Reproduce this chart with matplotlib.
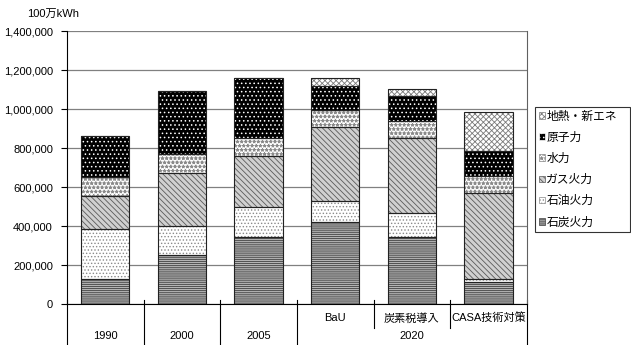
import numpy as np
import matplotlib.pyplot as plt
from matplotlib.patches import Patch

plt.rcParams['font.family'] = ['Liberation Sans', 'Noto Sans CJK JP', 'DejaVu Sans']
plt.rcParams['hatch.linewidth'] = 0.6

# 発電電力量 (100万kWh)
cases = ['1990', '2000', '2005', 'BaU', '炭素税導入', 'CASA技術対策']
groups = ['1990', '2000', '2005', '2020']
sources = ['石炭火力', '石油火力', 'ガス火力', '水力', '原子力', '地熱・新エネ']
coal = [130000, 255000, 343000, 421000, 343000, 113000]
oil = [255000, 148000, 154000, 106000, 126000, 15000]
gas = [170000, 268000, 264000, 379000, 381000, 442000]
hydro = [95000, 98000, 89000, 89000, 89000, 89000]
nuclear = [210000, 322000, 311000, 124000, 126000, 128000]
renew = [0, 0, 0, 43000, 39000, 199000]
series = [coal, oil, gas, hydro, nuclear, renew]

# (face, hatch, hatch colour) for each source, monochrome patterns
styles = [
    ('#b4b4b4', '--------', '#404040'),
    ('white', '.....', '#8a8a8a'),
    ('#d0d0d0', '\\\\\\\\\\\\', '#5a5a5a'),
    ('white', '****', '#8a8a8a'),
    ('black', '....', 'white'),
    ('white', 'xxxxxx', '#7a7a7a'),
]

fig = plt.figure(figsize=(6.31, 3.45), dpi=100)
ax = fig.add_axes([0.106, 0.118, 0.729, 0.792])

x = np.arange(len(cases)) + 0.5
w = 0.63
bottom = np.zeros(len(cases))
for vals, (fc, hatch, hc) in zip(series, styles):
    vals = np.array(vals)
    ax.bar(x, vals, w, bottom=bottom, color=fc, hatch=hatch, edgecolor=hc, linewidth=0, zorder=2)
    ax.bar(x, vals, w, bottom=bottom, fill=False, edgecolor='#222222', linewidth=0.8, zorder=3)
    bottom += vals

ax.set_xlim(0, len(cases))
ax.set_ylim(0, 1400000)
ax.set_yticks(np.arange(0, 1400001, 200000))
ax.set_yticklabels([f'{v:,}' for v in range(0, 1400001, 200000)], fontsize=8)
ax.set_xticks([])
ax.tick_params(axis='y', direction='out', length=4, width=0.8, pad=6)
ax.yaxis.grid(True, color='#808080', linewidth=0.9)
ax.set_axisbelow(True)
ax.spines['top'].set_visible(False)
ax.spines['left'].set_linewidth(0.8)
ax.spines['bottom'].set_linewidth(0.8)
ax.spines['right'].set_color('#606060')
ax.spines['right'].set_linewidth(0.8)

# category axis with two label rows
tr = ax.get_xaxis_transform()
for b in [0, 1, 2, 3, 6]:
    ax.plot([b, b], [0.015, -0.15], transform=tr, clip_on=False, color='black', lw=0.8)
for b in [4, 5]:
    ax.plot([b, b], [0.015, -0.087], transform=tr, clip_on=False, color='black', lw=0.8)
for i in range(3, 6):
    ax.text(x[i], -0.05, cases[i], transform=tr, ha='center', va='center', fontsize=8)
for g, pos in zip(groups, [0.5, 1.5, 2.5, 4.5]):
    ax.text(pos, -0.116, g, transform=tr, ha='center', va='center', fontsize=8)

fig.text(27 / 631, 1 - 14 / 345, '100万kWh', fontsize=8, va='center')

handles = [Patch(facecolor=fc, hatch=h, edgecolor=hc, linewidth=0.5) for fc, h, hc in styles]
leg = fig.legend(handles[::-1], sources[::-1], loc='upper left',
                 bbox_to_anchor=(0.848, 0.333, 0.15, 0.357), mode='expand',
                 frameon=True, fancybox=False, edgecolor='black', fontsize=8.5,
                 handlelength=0.5, handleheight=0.5, handletextpad=0.15,
                 labelspacing=0.78, borderpad=0.3, borderaxespad=0)
leg.get_frame().set_linewidth(0.8)

fig.savefig('out.png', dpi=100)
